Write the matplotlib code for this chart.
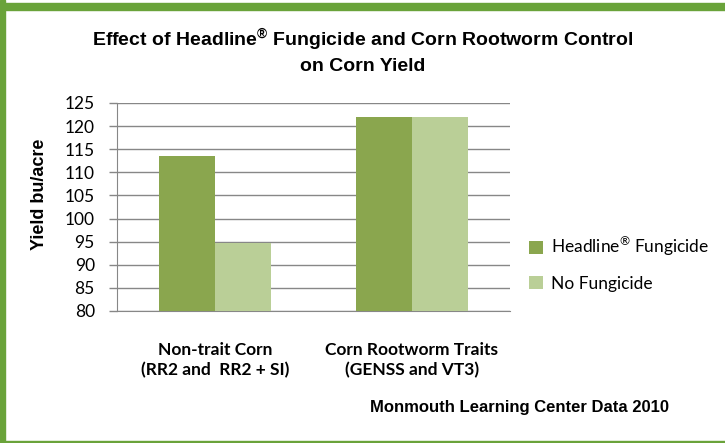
import matplotlib.pyplot as plt
import matplotlib.patches as mpatches
import numpy as np

plt.rcParams["mathtext.fontset"] = "custom"
plt.rcParams["mathtext.rm"] = "Lato"
plt.rcParams["mathtext.it"] = "Lato"
plt.rcParams["mathtext.bf"] = "Liberation Sans:bold"

categories = ["Non-trait Corn\n(RR2 and  RR2 + SI)", "Corn Rootworm Traits\n(GENSS and VT3)"]
series_names = ["Headline$^{\\mathrm{\u00ae}}$ Fungicide", "No Fungicide"]
headline = [113.5, 121.9]
no_fungicide = [94.8, 121.9]
yticks = list(range(80, 126, 5))

DARK = "#8aa64e"
LIGHT = "#bacf97"
GRID = "#878787"
BORDER = "#6aa33a"

fig = plt.figure(figsize=(7.25, 4.43), dpi=100)
ax = fig.add_axes([0.1614, 0.298, 0.5420, 0.4695])

x = np.arange(len(categories))
w = 0.285
b1 = ax.bar(x - w / 2, headline, w, color=DARK, label=series_names[0], zorder=3)
b2 = ax.bar(x + w / 2, no_fungicide, w, color=LIGHT, label=series_names[1], zorder=3)

ax.set_xlim(-0.5, 1.5)
ax.set_ylim(80, 125)
ax.set_yticks(yticks)
ax.yaxis.grid(True, color=GRID, linewidth=1, zorder=0)
ax.set_axisbelow(True)
for s in ["top", "right"]:
    ax.spines[s].set_visible(False)
ax.spines["left"].set_color(GRID)
ax.spines["bottom"].set_color(GRID)
ax.tick_params(axis="y", length=6, color=GRID, width=1, labelsize=12.5, pad=10)
ax.tick_params(axis="x", length=0, pad=22)
for lab in ax.get_yticklabels():
    lab.set_family("Lato")
ax.set_xticks(x)
ax.set_xticklabels(categories, fontsize=12.5, fontweight="bold", family="Lato",
                   linespacing=1.3)

fig.text(0.055, 0.562, "Yield bu/acre", rotation=90, ha="center", va="center",
         fontsize=13, fontweight="bold", family="Liberation Sans")

fig.text(0.5, 0.885,
         "Effect of Headline$^{\\mathbf{\u00ae}}$ Fungicide and Corn Rootworm Control\non Corn Yield",
         ha="center", va="center", fontsize=14, fontweight="bold",
         family="Liberation Sans", linespacing=1.35)

fig.text(0.717, 0.081, "Monmouth Learning Center Data 2010", ha="center", va="center",
         fontsize=12, fontweight="bold", family="Liberation Sans")

fig.legend(handles=[b1, b2], labels=series_names, loc="center left",
           bbox_to_anchor=(0.708, 0.405), frameon=False, handlelength=0.8,
           handleheight=0.8, handletextpad=0.5, labelspacing=1.0,
           prop={"family": "Lato", "size": 12.5})

# green frame
fig.patches.append(mpatches.Rectangle((0, 0), 5 / 725, 1, transform=fig.transFigure,
                                      color=BORDER, zorder=10))
fig.patches.append(mpatches.Rectangle((0, 1 - 10 / 443), 1, 7 / 443, transform=fig.transFigure,
                                      color=BORDER, zorder=10))
fig.patches.append(mpatches.Rectangle((0, 0), 1, 2 / 443, transform=fig.transFigure,
                                      color=BORDER, zorder=10))

fig.savefig("out.png", dpi=100)
